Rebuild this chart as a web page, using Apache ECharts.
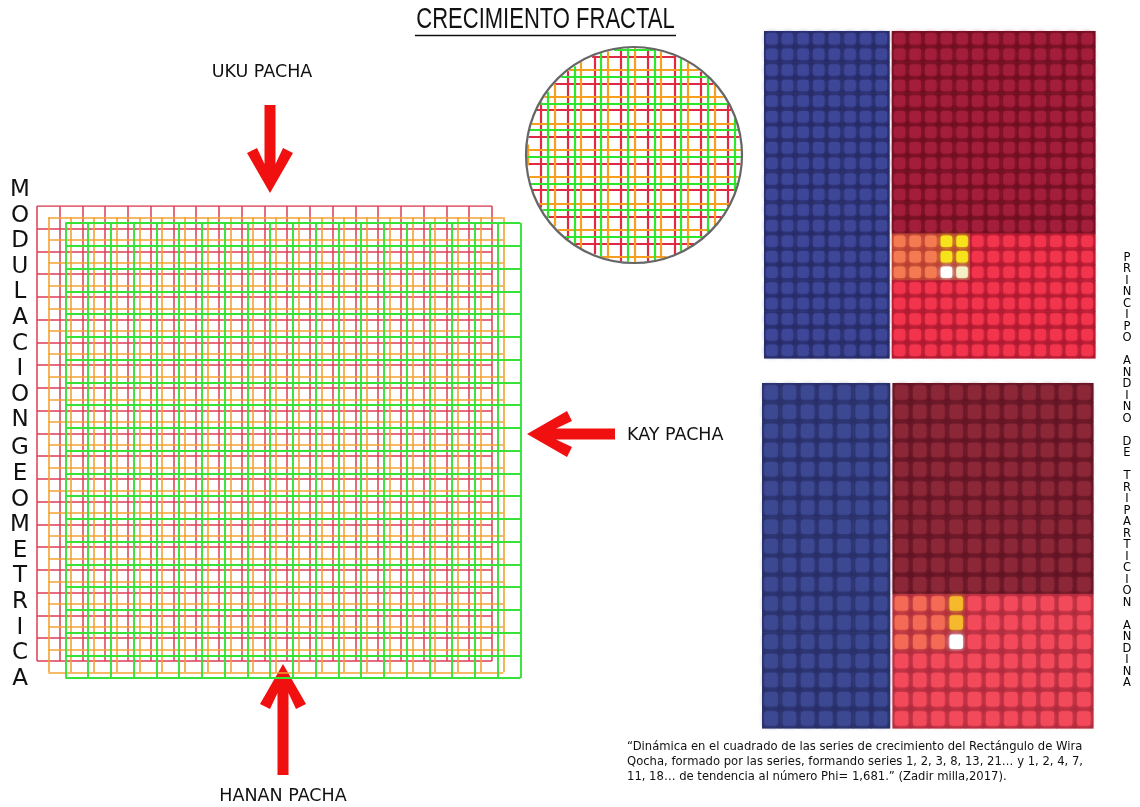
<!DOCTYPE html>
<html><head><meta charset="utf-8">
<script src="https://cdn.jsdelivr.net/npm/echarts@6/dist/echarts.min.js"></script>
<style>html,body{margin:0;padding:0;background:#fff}#c{width:1140px;height:807px}</style>
</head><body><div id="c"></div>
<script>
// ---------- DATA ----------
// Square modular grid: three overlapping 20x20 grids (red, orange, green)
const gridCellCount = 20;
const layerNames = ['rojo', 'naranja', 'verde'];
const layerOffsetX = [0, 0.5, 1.25];
const layerOffsetY = [0, 0.5, 0.75];

// Magnified view (circle) of the same grid, in grid units
const zoomCenter = [12.485, 11.685];
const zoomRadius = 4.045;

// Photo panel (top): blue block + red block of tiles
const topBlueCols = 8, topRedCols = 13, topRows = 21, topDarkRows = 13;
const topOrangeCells = [[0,13],[1,13],[2,13],[0,14],[1,14],[2,14],[0,15],[1,15],[2,15]];
const topYellowCells = [[3,13],[4,13],[3,14],[4,14]];
const topWhiteCells  = [[3,15]];
const topCreamCells  = [[4,15]];

// Photo panel (bottom)
const botBlueCols = 7, botRedCols = 11, botRows = 18, botDarkRows = 11;
const botOrangeCells = [[0,11],[1,11],[2,11],[0,12],[1,12],[2,12],[0,13],[1,13],[2,13]];
const botYellowCells = [[3,11],[3,12]];
const botWhiteCells  = [[3,13]];

// Texts
const titleText = 'CRECIMIENTO FRACTAL';
const labelTop = 'UKU PACHA';
const labelMid = 'KAY PACHA';
const labelBottom = 'HANAN PACHA';
const leftWords = ['MODULACION', 'GEOMETRICA'];
const rightVertical = 'PRINCIPO ANDINO DE TRIPARTICION ANDINA';
const captionLines = [
  '\u201CDinámica en el cuadrado de las series de crecimiento del Rectángulo de Wira',
  'Qocha, formado por las series, formando series 1, 2, 3, 8, 13, 21\u2026 y 1, 2, 4, 7,',
  '11, 18\u2026 de tendencia al número Phi= 1,681.\u201D (Zadir milla,2017).'
];

// ---------- STYLE ----------
const layerColors = ['#dc3c52', '#f3a232', '#36e236'];
const zoomColors = ['#e02a44', '#f5a020', '#2ee62e'];
const layerWidths = [1.5, 1.6, 1.9];
const FONT = '"DejaVu Sans", Verdana, sans-serif';

// palette: [fill, gap]
const PAL = {
  topBlue:   ['#3e4697', '#262a64'],
  topDark:   ['#a31e3b', '#6c0e20'],
  topBright: ['#f2344d', '#a8182e'],
  topOrange: ['#f47a52', '#b23a2e'],
  topYellow: ['#f6e31c', '#b23a2e'],
  topWhite:  ['#ffffff', '#b23a2e'],
  topCream:  ['#f6f0c6', '#b23a2e'],
  botBlue:   ['#3d4892', '#282e66'],
  botDark:   ['#8c2738', '#601424'],
  botBright: ['#f34a5b', '#ac2a3c'],
  botOrange: ['#f36a55', '#ac2a3c'],
  botYellow: ['#f6b82c', '#ac2a3c'],
  botWhite:  ['#ffffff', '#ac2a3c']
};
const palKeys = Object.keys(PAL);

// ---------- BUILD ----------
function layerLines(i, clip) {
  const ox = layerOffsetX[i], oy = layerOffsetY[i];
  const out = [];
  for (let k = 0; k <= gridCellCount; k++) {
    let x = ox + k, y1 = oy, y2 = oy + gridCellCount;
    let ok = true;
    if (clip) {
      const dx = x - clip.c[0];
      if (Math.abs(dx) >= clip.r) ok = false;
      else {
        const h = Math.sqrt(clip.r * clip.r - dx * dx);
        y1 = Math.max(y1, clip.c[1] - h); y2 = Math.min(y2, clip.c[1] + h);
        if (y2 <= y1) ok = false;
      }
    }
    if (ok) out.push({ coords: [[x, y1], [x, y2]] });
    let y = oy + k, x1 = ox, x2 = ox + gridCellCount;
    ok = true;
    if (clip) {
      const dy = y - clip.c[1];
      if (Math.abs(dy) >= clip.r) ok = false;
      else {
        const w = Math.sqrt(clip.r * clip.r - dy * dy);
        x1 = Math.max(x1, clip.c[0] - w); x2 = Math.min(x2, clip.c[0] + w);
        if (x2 <= x1) ok = false;
      }
    }
    if (ok) out.push({ coords: [[x1, y], [x2, y]] });
  }
  return out;
}

function panelCells(prefix, blueCols, redCols, rows, darkRows, redX0, specials) {
  const cells = [];
  for (let r = 0; r < rows; r++)
    for (let c = 0; c < blueCols; c++) cells.push([c, r, palKeys.indexOf(prefix + 'Blue')]);
  const spec = {};
  specials.forEach(([list, key]) => list.forEach(([c, r]) => { spec[c + ',' + r] = key; }));
  for (let r = 0; r < rows; r++)
    for (let c = 0; c < redCols; c++) {
      let key = spec[c + ',' + r] || (r < darkRows ? prefix + 'Dark' : prefix + 'Bright');
      cells.push([redX0 + c, r, palKeys.indexOf(key)]);
    }
  return cells;
}

const topCells = panelCells('top', topBlueCols, topRedCols, topRows, topDarkRows, topBlueCols + 0.17,
  [[topOrangeCells, 'topOrange'], [topYellowCells, 'topYellow'], [topWhiteCells, 'topWhite'], [topCreamCells, 'topCream']]);
const botCells = panelCells('bot', botBlueCols, botRedCols, botRows, botDarkRows, botBlueCols + 0.15,
  [[botOrangeCells, 'botOrange'], [botYellowCells, 'botYellow'], [botWhiteCells, 'botWhite']]);

function renderCell(params, api) {
  const x = api.value(0), y = api.value(1), k = api.value(2);
  const p = api.coord([x, y]);
  const s = api.size([1, 1]);
  const pal = PAL[palKeys[k]];
  const ins = Math.max(2, s[0] * 0.13);
  return {
    type: 'group',
    children: [
      { type: 'rect', shape: { x: p[0], y: p[1], width: s[0] + 0.6, height: s[1] + 0.6 }, style: { fill: pal[1] } },
      { type: 'rect', shape: { x: p[0] + ins, y: p[1] + ins, width: s[0] - 2 * ins, height: s[1] - 2 * ins, r: 2.5 },
        style: { fill: pal[0], shadowBlur: 5, shadowColor: pal[0] } }
    ]
  };
}

const series = [];
layerNames.forEach((n, i) => {
  series.push({
    type: 'lines', name: n, coordinateSystem: 'cartesian2d', xAxisIndex: 0, yAxisIndex: 0,
    polyline: false, silent: true, z: 2 + i,
    lineStyle: { color: layerColors[i], width: layerWidths[i], opacity: 1, curveness: 0 },
    data: layerLines(i, null)
  });
});
layerNames.forEach((n, i) => {
  series.push({
    type: 'lines', name: n + '-zoom', coordinateSystem: 'cartesian2d', xAxisIndex: 1, yAxisIndex: 1,
    polyline: false, silent: true, z: 2 + i,
    lineStyle: { color: zoomColors[i], width: 2.2, opacity: 1, curveness: 0 },
    data: layerLines(i, { c: zoomCenter, r: zoomRadius * 0.99 })
  });
});
series.push({
  type: 'custom', name: 'zoom-circle', xAxisIndex: 1, yAxisIndex: 1, silent: true, z: 10,
  data: [[zoomCenter[0], zoomCenter[1], zoomRadius]],
  renderItem(params, api) {
    const c = api.coord([api.value(0), api.value(1)]);
    const r = api.size([api.value(2), 0])[0];
    return { type: 'circle', shape: { cx: c[0], cy: c[1], r: r }, style: { fill: null, stroke: '#666666', lineWidth: 2.2 } };
  }
});
series.push({ type: 'custom', name: 'panel-top', xAxisIndex: 2, yAxisIndex: 2, silent: true, data: topCells, renderItem: renderCell });
series.push({ type: 'custom', name: 'panel-bottom', xAxisIndex: 3, yAxisIndex: 3, silent: true, data: botCells, renderItem: renderCell });

// ---------- ANNOTATIONS ----------
function arrowShape(tip, dir, len) {
  const px = -dir[1], py = dir[0];
  const local = [[0,0],[40,23],[45,13],[29,5.5],[len,5.5],[len,-5.5],[29,-5.5],[45,-13],[40,-23]];
  return local.map(([a, s]) => [tip[0] - a * dir[0] + s * px, tip[1] - a * dir[1] + s * py]);
}
const ARROW = '#f01010';
const graphic = [];
graphic.push({ type: 'text', x: 545.5, y: 20, scaleY: 1.3,
  style: { text: titleText, font: '22px "Liberation Sans", Arial, sans-serif', fill: '#111', textAlign: 'center', textVerticalAlign: 'middle' } });
graphic.push({ type: 'line', shape: { x1: 415, y1: 35.5, x2: 676, y2: 35.5 }, style: { stroke: '#111', lineWidth: 1.5 } });
graphic.push({ type: 'text', x: 262, y: 72, style: { text: labelTop, font: '17.5px ' + FONT, fill: '#111', textAlign: 'center', textVerticalAlign: 'middle' } });
graphic.push({ type: 'text', x: 627, y: 435, style: { text: labelMid, font: '17.5px ' + FONT, fill: '#111', textAlign: 'left', textVerticalAlign: 'middle' } });
graphic.push({ type: 'text', x: 283, y: 796, style: { text: labelBottom, font: '17.5px ' + FONT, fill: '#111', textAlign: 'center', textVerticalAlign: 'middle' } });
graphic.push({ type: 'polygon', shape: { points: arrowShape([270, 193], [0, 1], 88) }, style: { fill: ARROW } });
graphic.push({ type: 'polygon', shape: { points: arrowShape([283, 664], [0, -1], 111) }, style: { fill: ARROW } });
graphic.push({ type: 'polygon', shape: { points: arrowShape([527, 434], [-1, 0], 88) }, style: { fill: ARROW } });

// left vertical words
let ly = 190;
leftWords.forEach((w, wi) => {
  if (wi > 0) ly += 28 - 25.6;
  for (const ch of w) {
    graphic.push({ type: 'text', x: 20, y: ly, style: { text: ch, font: '23px ' + FONT, fill: '#111', textAlign: 'center', textVerticalAlign: 'middle' } });
    ly += 25.6;
  }
});
// right vertical text
let ry = 258;
for (const ch of rightVertical) {
  if (ch !== ' ') graphic.push({ type: 'text', x: 1127, y: ry, style: { text: ch, font: '11.5px ' + FONT, fill: '#000', textAlign: 'center', textVerticalAlign: 'middle' } });
  ry += 11.5;
}
// caption
captionLines.forEach((t, i) => {
  graphic.push({ type: 'text', x: 627, y: 747 + i * 15, style: { text: t, font: '11.6px ' + FONT, fill: '#111', textAlign: 'left', textVerticalAlign: 'middle' } });
});

// ---------- CHART ----------
const chart = echarts.init(document.getElementById('c'), null, { renderer: 'canvas' });
chart.setOption({
  animation: false,
  backgroundColor: '#ffffff',
  grid: [
    { left: 37, top: 206, width: 483.4, height: 472 },
    { left: 526, top: 47, width: 216, height: 216 },
    { left: 764, top: 31, width: 331, height: 327 },
    { left: 762, top: 383, width: 331, height: 345 }
  ],
  xAxis: [
    { type: 'value', gridIndex: 0, min: 0, max: 21.25, show: false },
    { type: 'value', gridIndex: 1, min: zoomCenter[0] - zoomRadius, max: zoomCenter[0] + zoomRadius, show: false },
    { type: 'value', gridIndex: 2, min: 0, max: topBlueCols + 0.17 + topRedCols, show: false },
    { type: 'value', gridIndex: 3, min: 0, max: botBlueCols + 0.15 + botRedCols, show: false }
  ],
  yAxis: [
    { type: 'value', gridIndex: 0, min: 0, max: 20.75, inverse: true, show: false },
    { type: 'value', gridIndex: 1, min: zoomCenter[1] - zoomRadius, max: zoomCenter[1] + zoomRadius, inverse: true, show: false },
    { type: 'value', gridIndex: 2, min: 0, max: topRows, inverse: true, show: false },
    { type: 'value', gridIndex: 3, min: 0, max: botRows, inverse: true, show: false }
  ],
  series: series,
  graphic: graphic
});
</script></body></html>
